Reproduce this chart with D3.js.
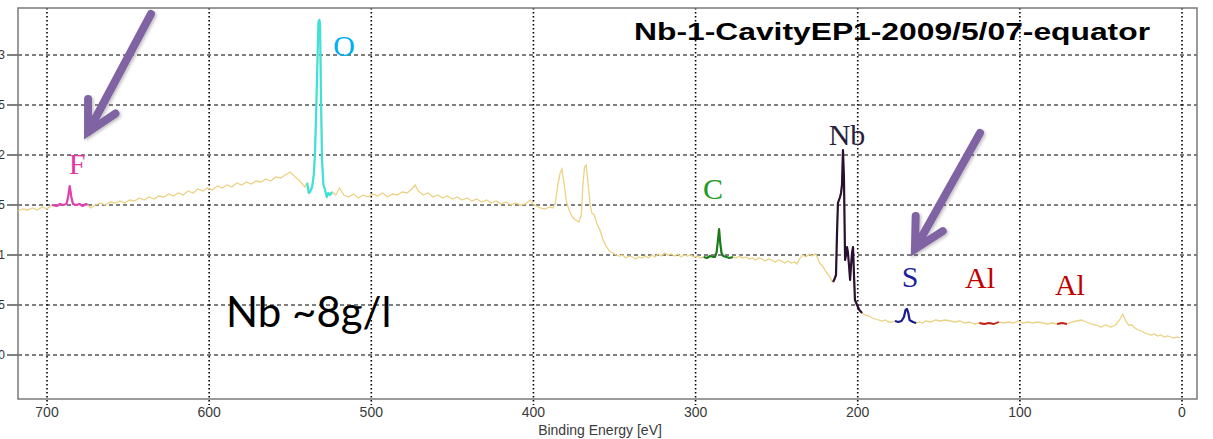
<!DOCTYPE html>
<html>
<head>
<meta charset="utf-8" />
<title></title>
<style>
html, body { margin:0; padding:0; background:#fff; }
svg { display:block; }
</style>
</head>
<body>
<svg id="chart" width="1213" height="439"></svg>
<script src="https://cdnjs.cloudflare.com/ajax/libs/d3/7.8.5/d3.min.js"></script>
<script>
// spectrum: [binding energy eV, intensity]
var spectrum = [
[718,1.44],[715,1.46],[712,1.45],[709,1.47],[706,1.45],[703,1.48],[700,1.46],[697,1.50],[694,1.49],[692,1.51],
[690,1.50],[688,1.51],[687,1.58],[686,1.69],[685,1.58],[684,1.51],[682,1.50],[680,1.51],[678,1.49],[676,1.51],
[675,1.50],[673,1.47],[670,1.50],[667,1.52],[664,1.50],[661,1.53],[658,1.52],[655,1.54],[652,1.52],[649,1.55],
[646,1.54],[643,1.57],[640,1.55],[637,1.58],[634,1.56],[631,1.59],[628,1.58],[625,1.61],[622,1.59],[619,1.62],
[616,1.60],[613,1.64],[610,1.62],[607,1.66],[604,1.64],[601,1.67],[598,1.65],[595,1.69],[592,1.67],[589,1.70],
[586,1.68],[583,1.72],[580,1.70],[577,1.73],[574,1.71],[571,1.74],[568,1.73],[565,1.76],[562,1.74],[559,1.78],
[556,1.77],[553,1.80],[550,1.83],[547,1.78],[544,1.74],[541,1.68],
[539.6,1.72],[538.5,1.62],[537.8,1.63],[536.5,1.68],[535.5,1.80],[534.7,2.02],[533.5,2.75],[532.6,3.33],[532.0,3.35],
[531.6,3.30],[531.0,2.55],[530.4,1.95],[529.5,1.70],[528.5,1.65],[527.5,1.58],[526.5,1.62],[525.5,1.60],[524.2,1.63],
[522,1.60],[519.5,1.67],[517,1.60],[514,1.58],[511,1.61],[508,1.57],[505,1.60],[502,1.58],[499,1.61],[496,1.59],
[493,1.62],[490,1.58],[487,1.61],[484,1.60],[481,1.63],[478,1.62],[475,1.66],[473,1.70],[471,1.64],[468,1.60],
[465,1.62],[462,1.58],[459,1.60],[456,1.57],[453,1.59],[450,1.56],[447,1.58],[444,1.55],[441,1.57],[438,1.54],
[435,1.56],[432,1.53],[429,1.55],[426,1.52],[423,1.54],[420,1.51],[417,1.53],[414,1.50],[411,1.52],[408,1.50],
[405,1.51],[402,1.55],[400,1.50],[398,1.49],[396,1.47],[393,1.46],[390,1.48],[388,1.47],[386.5,1.52],[385,1.70],
[383.5,1.82],[382.4,1.86],[381,1.70],[379.5,1.52],[378,1.45],[376,1.38],[374,1.35],[372,1.33],[370.5,1.40],[369.5,1.70],
[368.5,1.88],[367.5,1.90],[366.5,1.75],[365,1.50],[364,1.42],[362.5,1.40],[361,1.32],[359,1.25],[357,1.15],[355,1.08],
[353,1.04],[351,1.02],[349,1.00],[347,0.99],[345,1.00],[343,0.97],[341,0.99],[339,0.98],[337,0.96],[335,0.98],
[333,0.97],[331,0.99],[329,0.97],[327,1.00],[325,0.98],[323,1.01],[321,0.99],[319,1.02],[317,1.00],[315,1.01],
[313,0.99],[311,1.01],[309,0.98],[307,1.00],[305,0.99],[303,1.00],[301,0.98],[299,0.99],[297,0.97],[295,0.98],
[293,0.97],[291,0.99],[289,0.98],[288,0.98],[287,1.03],[286.2,1.15],[285.5,1.26],[284.8,1.12],[284,1.02],[283,0.99],
[281,0.98],[279,0.97],[277,0.98],[275,0.97],[273,0.99],[271,0.97],[269,0.98],[267,0.96],[265,0.97],[263,0.95],
[261,0.97],[259,0.96],[257,0.94],[255,0.96],[253,0.95],[251,0.93],[249,0.95],[247,0.94],[245,0.92],[243,0.94],
[241,0.92],[239,0.93],[237.4,0.91],[236,0.96],[234,1.00],[232,0.98],[230,1.01],[228,0.99],[226,1.01],[225,0.98],
[223.5,0.92],[221.4,0.88],[219,0.82],[217.1,0.78],[216,0.74],[215.2,0.73],[214.3,0.76],[213.4,0.80],[212.8,1.20],[212.2,1.52],
[210.9,1.58],[210.3,1.62],[209.7,1.70],[209.1,2.05],[208.5,1.78],[207.8,0.95],[207.2,1.00],[206.6,1.08],[206.0,1.02],[205.4,0.90],
[204.7,0.75],[204.1,0.90],[203.5,1.02],[202.9,1.08],[202.3,0.80],[201.7,0.55],[200.4,0.50],[199,0.45],[197.3,0.42],[195.5,0.40],
[193,0.39],[191,0.37],[189,0.36],[187,0.35],[185,0.34],[183,0.35],[181,0.33],[179,0.33],[177,0.34],[175,0.33],
[173,0.34],[171.5,0.38],[170.5,0.45],[169.6,0.46],[168.8,0.42],[168,0.35],[166,0.33],[164,0.32],[162,0.33],[160,0.32],
[158,0.34],[155,0.33],[152,0.35],[149,0.34],[146,0.35],[143,0.34],[140,0.33],[137,0.34],[134,0.32],[131,0.33],
[128,0.31],[125,0.32],[122,0.31],[119,0.32],[116,0.31],[113,0.33],[110,0.32],[107,0.33],[104,0.32],[101,0.34],
[98,0.32],[95,0.33],[92,0.32],[89,0.33],[86,0.32],[83,0.31],[80,0.32],[77,0.31],[74,0.32],[71,0.31],
[68,0.33],[65,0.34],[62,0.35],[59,0.33],[56,0.31],[53,0.30],[50,0.28],[47,0.30],[44,0.28],[41,0.30],
[38.5,0.35],[36.5,0.41],[35,0.35],[33,0.30],[31,0.30],[29,0.27],[27,0.25],[25,0.24],[23,0.22],[21,0.21],
[19,0.20],[17,0.21],[15,0.19],[13,0.20],[11,0.18],[9,0.19],[7,0.18],[5,0.17],[3,0.18],[1,0.17]
];

// coloured element windows
var regionElement = ["F", "O", "C", "Nb", "S", "Al", "Al"];
var regionFrom    = [697, 540, 296, 215.5, 178, 125, 77];
var regionTo      = [675, 524, 276, 197, 163, 112, 69];

// element labels
var labelText   = ["F", "O", "C", "Nb", "S", "Al", "Al"];
var labelEnergy = [681.5, 516.8, 289.2, 206.6, 167.7, 124.6, 69.1];
var labelValue  = [1.81, 2.99, 1.56, 2.10, 0.68, 0.67, 0.60];

// arrows [energy, value]
var arrowFrom = [[635.9, 3.41], [124.6, 2.22]];
var arrowTo   = [[674.7, 2.23], [164.7, 1.06]];

var xTicks = [700, 600, 500, 400, 300, 200, 100, 0];
var yTicks = [0, 0.5, 1, 1.5, 2, 2.5, 3];

var colors = {
    F: {line: "#e040b0", text: "#e0389f"},
    O: {line: "#3fe0d8", text: "#00b0f0"},
    C: {line: "#1c7a1c", text: "#1e9a1e"},
    Nb: {line: "#2a1030", text: "#2b1e3d"},
    S: {line: "#1a1a90", text: "#1f1f9c"},
    Al: {line: "#c02020", text: "#c00000"}
};

var svg = d3.select("#chart");
var pLeft = 18, pRight = 1197, pTop = 8, pBottom = 399;

var x = d3.scaleLinear().domain([717.9, -9.25]).range([pLeft, pRight]);
var y = d3.scaleLinear().domain([-0.44, 3.47]).range([pBottom, pTop]);

var defs = svg.append("defs");
defs.append("clipPath").attr("id", "plot")
    .append("rect").attr("x", pLeft).attr("y", pTop)
    .attr("width", pRight - pLeft).attr("height", pBottom - pTop);

// horizontal dashed grid + y ticks (labels cut at the left edge as in the original)
var yg = svg.append("g");
yg.selectAll("line.grid").data(yTicks).enter().append("line")
    .attr("class", "grid")
    .attr("x1", pLeft).attr("x2", pRight)
    .attr("y1", function(d){ return y(d) }).attr("y2", function(d){ return y(d) })
    .attr("stroke", "#000").attr("stroke-width", 1).attr("stroke-dasharray", "4,3");
yg.selectAll("line.tick").data(yTicks).enter().append("line")
    .attr("class", "tick")
    .attr("x1", 7).attr("x2", pLeft)
    .attr("y1", function(d){ return y(d) }).attr("y2", function(d){ return y(d) })
    .attr("stroke", "#000").attr("stroke-width", 1);
yg.selectAll("text").data(yTicks).enter().append("text")
    .attr("x", 5).attr("y", function(d){ return y(d) + 4 })
    .attr("text-anchor", "end")
    .attr("font-family", "Liberation Sans, Arial, sans-serif").attr("font-size", 12)
    .attr("fill", "#333")
    .text(function(d){ return d });

// vertical dotted grid + x ticks
var xg = svg.append("g");
xg.selectAll("line").data(xTicks).enter().append("line")
    .attr("x1", function(d){ return x(d) }).attr("x2", function(d){ return x(d) })
    .attr("y1", pTop).attr("y2", pBottom + 6)
    .attr("stroke", "#000").attr("stroke-width", 1.6).attr("stroke-dasharray", "1.5,2.5");
xg.selectAll("text").data(xTicks).enter().append("text")
    .attr("x", function(d){ return x(d) }).attr("y", 417)
    .attr("text-anchor", "middle")
    .attr("font-family", "Liberation Sans, Arial, sans-serif").attr("font-size", 14)
    .attr("fill", "#3a3a3a")
    .text(function(d){ return d });
svg.append("text")
    .attr("x", 600).attr("y", 435).attr("text-anchor", "middle")
    .attr("font-family", "Liberation Sans, Arial, sans-serif").attr("font-size", 14)
    .attr("fill", "#3a3a3a")
    .text("Binding Energy [eV]");

// frame
svg.append("rect")
    .attr("x", pLeft).attr("y", pTop).attr("width", pRight - pLeft).attr("height", pBottom - pTop)
    .attr("fill", "none").attr("stroke", "#7a7a7a").attr("stroke-width", 1.5);

var line = d3.line()
    .x(function(d){ return x(d[0]) })
    .y(function(d){ return y(d[1]) });

var plot = svg.append("g").attr("clip-path", "url(#plot)");
plot.append("path").datum(spectrum)
    .attr("d", line)
    .attr("fill", "none").attr("stroke", "#ecd284").attr("stroke-width", 1.3);

regionElement.forEach(function(el, i) {
    var pts = spectrum.filter(function(d){ return d[0] <= regionFrom[i] && d[0] >= regionTo[i] });
    plot.append("path").datum(pts)
        .attr("d", line)
        .attr("fill", "none")
        .attr("stroke", colors[el].line)
        .attr("stroke-width", el == "Al" ? 1.8 : 2.2)
        .attr("stroke-linejoin", "round");
});

// element labels
svg.selectAll("text.el").data(labelText).enter().append("text")
    .attr("class", "el")
    .attr("x", function(d, i){ return x(labelEnergy[i]) })
    .attr("y", function(d, i){ return y(labelValue[i]) })
    .attr("text-anchor", "middle")
    .attr("font-family", "Liberation Serif, Times New Roman, serif").attr("font-size", 30)
    .attr("fill", function(d){ return colors[d].text })
    .text(function(d){ return d });

// arrows
var shadow = defs.append("filter").attr("id", "shadow")
    .attr("x", "-30%").attr("y", "-30%").attr("width", "160%").attr("height", "160%");
shadow.append("feDropShadow").attr("dx", 1.5).attr("dy", 1.5).attr("stdDeviation", 1.5)
    .attr("flood-color", "#000").attr("flood-opacity", 0.25);

arrowFrom.forEach(function(a, i) {
    var x0 = x(a[0]), y0 = y(a[1]);
    var x1 = x(arrowTo[i][0]), y1 = y(arrowTo[i][1]);
    var ang = Math.atan2(y0 - y1, x0 - x1);
    var len = 33, spread = 28 * Math.PI / 180;
    var w1 = [x1 + len * Math.cos(ang - spread), y1 + len * Math.sin(ang - spread)];
    var w2 = [x1 + len * Math.cos(ang + spread), y1 + len * Math.sin(ang + spread)];
    var d = "M" + x0 + "," + y0 + "L" + x1 + "," + y1 +
            "M" + w1[0] + "," + w1[1] + "L" + x1 + "," + y1 + "L" + w2[0] + "," + w2[1];
    svg.append("path").attr("d", d)
        .attr("fill", "none").attr("stroke", "#8064a2").attr("stroke-width", 8)
        .attr("stroke-linecap", "round").attr("stroke-linejoin", "miter")
        .attr("filter", "url(#shadow)");
});

// title and note
svg.append("text")
    .attr("x", 634).attr("y", 40)
    .attr("font-family", "Liberation Sans, Arial, sans-serif").attr("font-weight", "bold")
    .attr("font-size", 24).attr("fill", "#000")
    .attr("textLength", 516).attr("lengthAdjust", "spacingAndGlyphs")
    .text("Nb-1-CavityEP1-2009/5/07-equator");

svg.append("text")
    .attr("x", 226).attr("y", 327)
    .attr("font-family", "Lato, Open Sans, sans-serif")
    .attr("font-size", 42).attr("fill", "#000")
    .text("Nb ~8g/l");
</script>
</body>
</html>
